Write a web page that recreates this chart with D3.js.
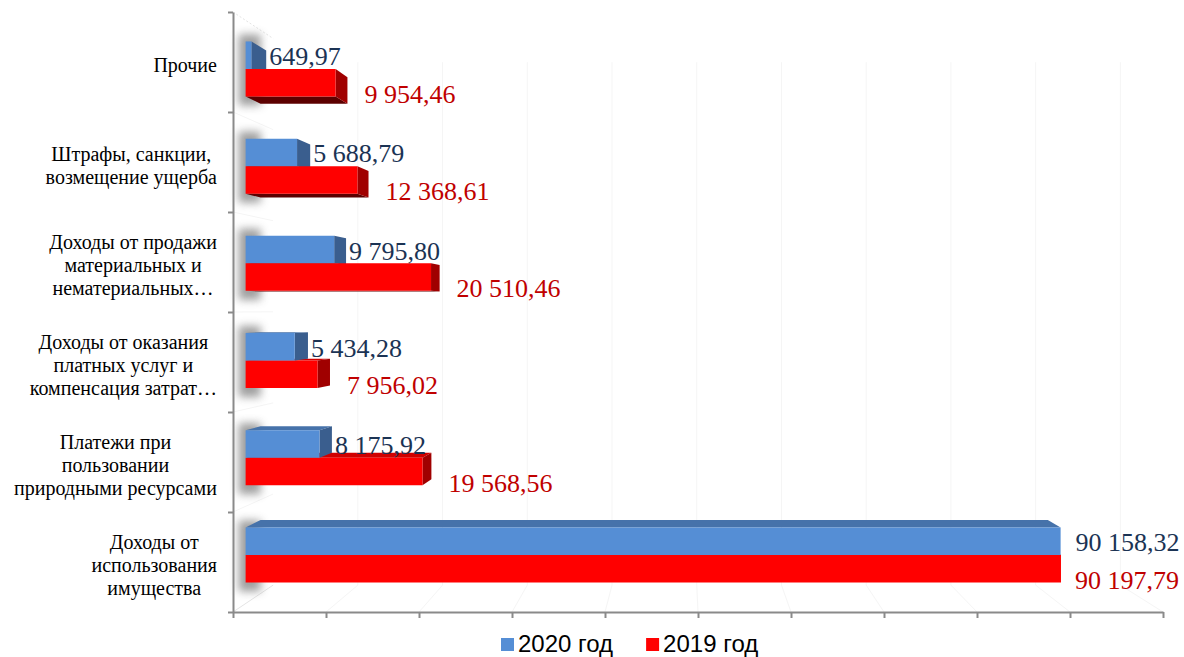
<!DOCTYPE html>
<html>
<head>
<meta charset="utf-8">
<script src="https://cdn.jsdelivr.net/npm/d3@7"></script>
<style>
  body { margin: 0; background: #fff; }
</style>
</head>
<body>
<div id="wrapper"></div>
<script>
// data
const categories = ["Прочие", "Штрафы", "Продажа", "Услуги", "Платежи", "Имущество"];
const categoryLines = [
  ["Прочие"],
  ["Штрафы, санкции,", "возмещение ущерба"],
  ["Доходы от продажи", "материальных и", "нематериальных…"],
  ["Доходы от оказания", "платных услуг и", "компенсация затрат…"],
  ["Платежи при", "пользовании", "природными ресурсами"],
  ["Доходы от", "использования", "имущества"]
];
const seriesNames = ["2020 год", "2019 год"];
const values2020 = [649.97, 5688.79, 9795.80, 5434.28, 8175.92, 90158.32];
const values2019 = [9954.46, 12368.61, 20510.46, 7956.02, 19568.56, 90197.79];
const xTicks = d3.range(0, 100001, 10000);

const width = 1184, height = 657;

// perspective: everything shrinks towards a vanishing point
const VP = [684, 310];
const S_FRONT = 0.972, S_BACK = 0.939, S_WALL = 0.911;
const proj = (px, py, s) => [VP[0] + (px - VP[0]) * s, VP[1] + (py - VP[1]) * s];

const colors = {
  "2020 год": { front: "#558ed5", top: "#4672aa", side: "#3a5e8e", bottom: "#2c4a72", label: "#1b3354" },
  "2019 год": { front: "#ff0000", top: "#d00000", side: "#a00000", bottom: "#5c0000", label: "#c00000" }
};

const ruFormat = d3.formatLocale({ decimal: ",", thousands: " ", grouping: [3], currency: ["", ""] }).format(",.2f");

const x = d3.scaleLinear().domain([0, 100000]).range([233, 1163]);
const y = d3.scaleBand().domain(categories).range([12, 612]).paddingInner(0.434).paddingOuter(0.217);
const ys = d3.scaleBand().domain(seriesNames).range([0, y.bandwidth()]);
const yTick = d3.scaleLinear().domain([0, categories.length]).range([12, 612]);

const rows = categories.map((c, i) => ({
  cat: c, i,
  bars: [
    { series: seriesNames[0], value: values2020[i] },
    { series: seriesNames[1], value: values2019[i] }
  ]
}));

const svg = d3.select("#wrapper").append("svg")
  .attr("width", width).attr("height", height)
  .style("font-family", "'Liberation Serif', 'Times New Roman', serif");

const defs = svg.append("defs");
defs.append("filter").attr("id", "glow").attr("x", "-100%").attr("y", "-50%").attr("width", "300%").attr("height", "200%")
  .append("feGaussianBlur").attr("stdDeviation", 4.5);

// faint walls and floor
const wall = svg.append("g").attr("stroke", "#f5f5f5").attr("fill", "none").attr("stroke-width", 1);
const line = d3.line();
wall.append("path").attr("d", line([[233, 12], proj(233, 12, S_WALL)])).attr("stroke", "#e4e4e4").attr("stroke-dasharray", "2,2");
wall.append("path").attr("d", line([[233, 612], proj(233, 612, S_WALL)])).attr("stroke", "#e4e4e4");
d3.range(1, categories.length).forEach(k => {
  wall.append("path").attr("d", line([[233, yTick(k)], proj(233, yTick(k), S_WALL)]));
});
xTicks.slice(1).forEach(t => {
  wall.append("path").attr("d", line([proj(x(t), 38, S_WALL), proj(x(t), 612, S_WALL)]));
  wall.append("path").attr("d", line([[x(t), 612], proj(x(t), 612, S_WALL)]));
});

// soft shadow behind each pair of bars
svg.append("g").selectAll("rect").data(rows).join("rect")
  .attr("x", d => proj(x(0), 0, S_FRONT)[0] - 7)
  .attr("y", d => proj(0, y(d.cat), S_FRONT)[1] - 7)
  .attr("width", 22)
  .attr("height", d => y.bandwidth() * S_FRONT + 16)
  .attr("fill", "#808080")
  .attr("opacity", 0.75)
  .attr("filter", "url(#glow)");

// 3d bars
const barsG = svg.append("g");
rows.forEach(row => {
  const order = (y(row.cat) + y.bandwidth() / 2) < VP[1] ? row.bars : row.bars.slice().reverse();
  order.forEach(b => {
    const c = colors[b.series];
    const x0 = x(0), x1 = x(b.value);
    const yt = y(row.cat) + ys(b.series), yb = yt + ys.bandwidth();
    const f = [[x0, yt], [x1, yt], [x1, yb], [x0, yb]].map(p => proj(p[0], p[1], S_FRONT));
    const k = [[x0, yt], [x1, yt], [x1, yb], [x0, yb]].map(p => proj(p[0], p[1], S_BACK));
    const g = barsG.append("g");
    if (yt > VP[1]) g.append("path").attr("d", line([f[0], f[1], k[1], k[0]]) + "Z").attr("fill", c.top);
    if (yb < VP[1]) g.append("path").attr("d", line([f[3], f[2], k[2], k[3]]) + "Z").attr("fill", c.bottom);
    if (x1 < VP[0]) g.append("path").attr("d", line([f[1], k[1], k[2], f[2]]) + "Z").attr("fill", c.side);
    g.append("path").attr("d", line(f) + "Z").attr("fill", c.front);
    b.frontRight = f[1][0];
    b.backRight = k[1][0];
    b.mid = (f[0][1] + f[3][1]) / 2;
  });
});

// value labels
const labels = svg.append("g").attr("font-size", 26);
rows.forEach(row => {
  row.bars.forEach((b, j) => {
    const beyond = b.frontRight > b.backRight;
    const edge = Math.max(b.frontRight, b.backRight);
    const gap = j === 0 ? (beyond ? 15 : 3) : (beyond ? 14 : 17);
    labels.append("text")
      .attr("x", edge + gap)
      .attr("y", b.mid + (j === 0 ? 1 : 11))
      .attr("dy", "0.35em")
      .attr("fill", colors[b.series].label)
      .text(ruFormat(b.value));
  });
});

// axes
const axisColor = "#8a8a8a";
const leftAxis = svg.append("g").attr("transform", "translate(233,0)")
  .call(d3.axisLeft(yTick).tickValues(d3.range(0, categories.length + 1)).tickFormat("").tickSize(5).tickSizeOuter(0));
const bottomAxis = svg.append("g").attr("transform", "translate(0,612)")
  .call(d3.axisBottom(x).tickValues(xTicks).tickFormat("").tickSize(6).tickSizeOuter(0));
[leftAxis, bottomAxis].forEach(a => {
  a.select(".domain").attr("stroke", axisColor).attr("stroke-width", 2);
  a.selectAll(".tick line").attr("stroke", axisColor).attr("stroke-width", 2);
});

// category labels: box right-aligned to the axis, lines centred in the box
const catG = svg.append("g").attr("font-size", 20).attr("fill", "#000");
rows.forEach((row, i) => {
  const lines = categoryLines[i];
  const lh = 23;
  const cy = y(row.cat) + y.bandwidth() / 2 + 3;
  const t = catG.append("text").attr("text-anchor", "middle");
  lines.forEach((l, n) => {
    t.append("tspan").attr("x", 0).attr("y", cy + (n - (lines.length - 1) / 2) * lh).attr("dy", "0.35em").text(l);
  });
  const w = t.node().getBBox().width;
  t.attr("transform", `translate(${217 - w / 2},0)`);
});

// legend
const legend = svg.append("g").attr("font-family", "'Liberation Sans', Arial, sans-serif").attr("font-size", 24);
let lx = 501;
seriesNames.forEach(s => {
  legend.append("rect").attr("x", lx).attr("y", 638).attr("width", 13).attr("height", 13).attr("fill", colors[s].front);
  const t = legend.append("text").attr("x", lx + 17).attr("y", 652).attr("fill", "#000").text(s);
  lx += 17 + t.node().getComputedTextLength() + 33;
});
</script>
</body>
</html>
